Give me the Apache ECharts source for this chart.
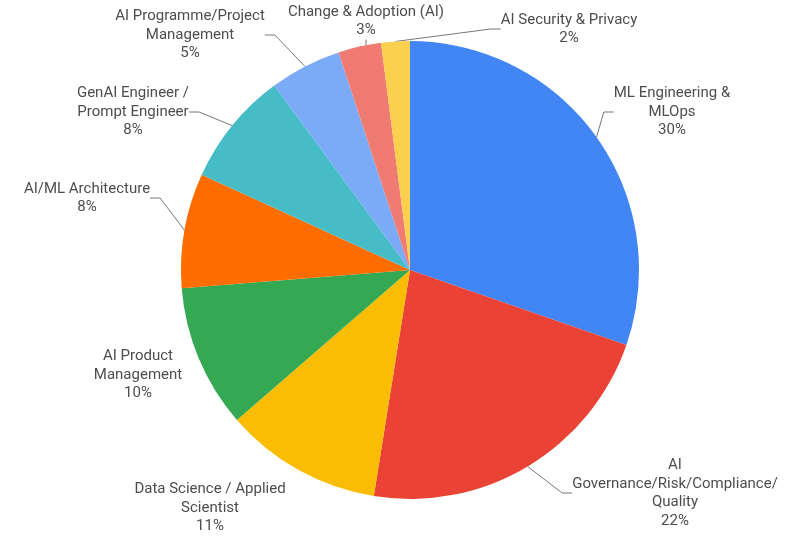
<!DOCTYPE html>
<html><head><meta charset="utf-8">
<script src="https://cdn.jsdelivr.net/npm/echarts@6/dist/echarts.min.js"></script>
<style>html,body{margin:0;padding:0;background:#fff}#c{width:800px;height:545px}</style>
</head><body><div id="c"></div>
<script>
const categories = [
  "ML Engineering & MLOps",
  "AI Governance/Risk/Compliance/Quality",
  "Data Science / Applied Scientist",
  "AI Product Management",
  "AI/ML Architecture",
  "GenAI Engineer / Prompt Engineer",
  "AI Programme/Project Management",
  "Change & Adoption (AI)",
  "AI Security & Privacy"
];
const labelTexts = [
  "ML Engineering &\nMLOps",
  "AI\nGovernance/Risk/Compliance/\nQuality",
  "Data Science / Applied\nScientist",
  "AI Product\nManagement",
  "AI/ML Architecture",
  "GenAI Engineer /\nPrompt Engineer",
  "AI Programme/Project\nManagement",
  "Change & Adoption (AI)",
  "AI Security & Privacy"
];
const values = [30, 22, 11, 10, 8, 8, 5, 3, 2];
const colors = ["#4285F4","#EA4335","#FBBC04","#34A853","#FF6D01","#46BDC6","#7BAAF7","#F07B72","#FCD04F"];
// label block centres (layout only)
const labelPos = [
  [672,112],[675,493],[210,508],[138,375],[87,198],[133,112],[190,35],[366,21],[569,29]
];

const chart = echarts.init(document.getElementById('c'));
chart.setOption({
  animation:false,
  series:[{
    type:'pie',
    center:[410,270],
    radius:[0,229],
    startAngle:90,
    clockwise:true,
    data: categories.map((n,i)=>({name:n,value:values[i],itemStyle:{color:colors[i]},
      labelLine:{show: !(i===2||i===3)}})),
    label:{
      show:true,
      formatter:p=>labelTexts[p.dataIndex]+"\n"+values[p.dataIndex]+"%",
      fontFamily:'Roboto',
      fontSize:15,
      lineHeight:18.5,
      color:'#4d4d4d',
      align:'center'
    },
    labelLine:{show:true,length:10,length2:10,lineStyle:{color:'#777',width:1}},
    labelLayout:p=>({x:labelPos[p.dataIndex][0],y:labelPos[p.dataIndex][1],align:'center',verticalAlign:'middle'}),
    emphasis:{disabled:true}
  }]
});
</script></body></html>
